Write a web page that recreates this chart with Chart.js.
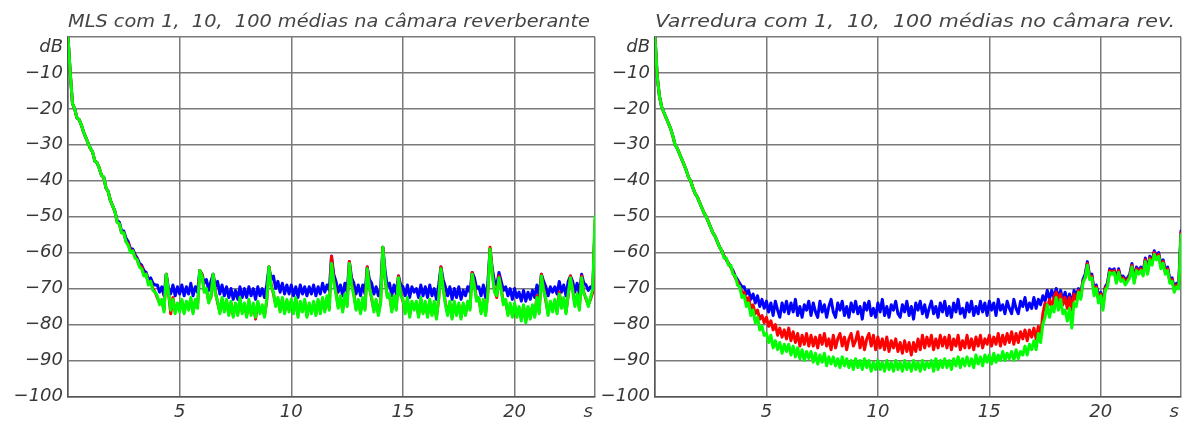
<!DOCTYPE html>
<html><head><meta charset="utf-8">
<script src="https://cdn.jsdelivr.net/npm/chart.js@4.4.1/dist/chart.umd.min.js"></script>
<style>
html,body{margin:0;padding:0;background:#fff;overflow:hidden;width:1184px;height:423px;}
#wl{position:absolute;left:0;top:0;width:600px;height:423px;}
#wr{position:absolute;left:587px;top:0;width:599px;height:423px;}
</style></head><body>
<div id="wl"><canvas id="cl"></canvas></div>
<div id="wr"><canvas id="cr"></canvas></div>
<script>
const titleLeft = 'MLS com 1,  10,  100 médias na câmara reverberante';
const titleRight = 'Varredura com 1,  10,  100 médias no câmara rev.';
const unitX = 's';
const unitY = 'dB';
const xTickValues = [0, 5, 10, 15, 20, 23.3, 23.6];
const yTickValues = [0, -10, -20, -30, -40, -50, -60, -70, -80, -90, -100];

const times = [
0,0.1,0.2,0.3,0.4,0.5,0.6,0.7,0.8,0.9,
1,1.1,1.2,1.3,1.4,1.5,1.6,1.7,1.8,1.9,
2,2.1,2.2,2.3,2.4,2.5,2.6,2.7,2.8,2.9,
3,3.1,3.2,3.3,3.4,3.5,3.6,3.7,3.8,3.9,
4,4.1,4.2,4.3,4.4,4.5,4.6,4.7,4.8,4.9,
5,5.1,5.2,5.3,5.4,5.5,5.6,5.7,5.8,5.9,
6,6.1,6.2,6.3,6.4,6.5,6.6,6.7,6.8,6.9,
7,7.1,7.2,7.3,7.4,7.5,7.6,7.7,7.8,7.9,
8,8.1,8.2,8.3,8.4,8.5,8.6,8.7,8.8,8.9,
9,9.1,9.2,9.3,9.4,9.5,9.6,9.7,9.8,9.9,
10,10.1,10.2,10.3,10.4,10.5,10.6,10.7,10.8,10.9,
11,11.1,11.2,11.3,11.4,11.5,11.6,11.7,11.8,11.9,
12,12.1,12.2,12.3,12.4,12.5,12.6,12.7,12.8,12.9,
13,13.1,13.2,13.3,13.4,13.5,13.6,13.7,13.8,13.9,
14,14.1,14.2,14.3,14.4,14.5,14.6,14.7,14.8,14.9,
15,15.1,15.2,15.3,15.4,15.5,15.6,15.7,15.8,15.9,
16,16.1,16.2,16.3,16.4,16.5,16.6,16.7,16.8,16.9,
17,17.1,17.2,17.3,17.4,17.5,17.6,17.7,17.8,17.9,
18,18.1,18.2,18.3,18.4,18.5,18.6,18.7,18.8,18.9,
19,19.1,19.2,19.3,19.4,19.5,19.6,19.7,19.8,19.9,
20,20.1,20.2,20.3,20.4,20.5,20.6,20.7,20.8,20.9,
21,21.1,21.2,21.3,21.4,21.5,21.6,21.7,21.8,21.9,
22,22.1,22.2,22.3,22.4,22.5,22.6,22.7,22.8,22.9,
23,23.1,23.2,23.3,23.4,23.5,23.6
];

// MLS, 1 average (blue)
const mlsAvg1 = [
0,-10,-18.5,-20,-22.5,-23,-24.5,-26.5,-28,-29.5,
-31,-32,-34.5,-35,-36.5,-38.5,-39,-42,-43,-45.5,
-47,-48.5,-51,-51.5,-54,-54,-56,-57,-59,-59,
-60.5,-61.5,-63,-63.5,-65,-65.5,-67.5,-67,-68.5,-69,
-69,-71,-69.5,-72,-66,-70,-71.5,-69,-72,-69.5,
-71.5,-69,-72,-69.5,-71.5,-68.5,-72,-69.5,-71,-65,
-66,-68.5,-67.5,-70.5,-68,-66,-69.5,-68,-71.5,-69,
-72,-69.5,-72.5,-70,-73,-70.5,-73,-69.5,-72.5,-70,
-72.5,-69.5,-72,-70,-73,-69.5,-72,-70,-72.5,-69,
-64,-67.5,-66.5,-70,-68,-71,-68.5,-71.5,-69,-71.5,
-69,-72,-69.5,-72.5,-69,-71.5,-69.5,-72,-69.5,-71.5,
-69,-72,-69.5,-71.5,-68.5,-71,-69,-70.5,-61,-66,
-68,-71,-69,-72,-68.5,-71,-62.5,-67,-68.5,-71.5,
-69,-72,-69,-71.5,-64,-67.5,-68.5,-71.5,-69.5,-72,
-70,-58.5,-65,-69.5,-68.5,-72,-69,-71.5,-66.5,-69,
-69.5,-72,-69,-72.5,-69.5,-71,-70,-72.5,-69,-72,
-69.5,-72.5,-69,-72,-70,-73,-69,-64,-67.5,-69.5,
-72,-69.5,-73,-70,-72.5,-69.5,-73,-70.5,-72,-69.5,
-71,-65.5,-67,-70,-69.5,-72,-69,-72.5,-68.5,-59,
-64.5,-68,-69,-65.5,-68,-70.5,-69.5,-72,-70,-73,
-70,-72.5,-71,-73.5,-70.5,-73.5,-71,-73,-70.5,-72.5,
-69,-72,-66,-68,-69.5,-72,-69.5,-71,-69.5,-71.5,
-68,-71,-69,-72,-68,-66.5,-68,-71,-68.5,-71.5,
-66,-68.5,-69,-70.5,-69.5,-70,-53
];

// MLS, 10 averages (red)
const mlsAvg10 = [
0,-10,-18.5,-20,-22.5,-23,-24.5,-26.5,-28,-29.5,
-31,-32,-34.5,-35,-36.5,-38.5,-39,-42,-43,-45.5,
-47,-48.5,-51.5,-52,-54.5,-54.5,-57,-57.5,-59.5,-59.5,
-61,-62,-63.5,-64,-66,-66,-68.5,-68,-70,-71,
-72.5,-74,-73.5,-76,-66,-71,-77,-72.5,-76.5,-74.5,
-76,-73.5,-76.5,-74,-75.5,-73,-76.5,-73.5,-75,-65,
-66,-70.5,-70.5,-73.5,-72.5,-66,-71,-74,-76.5,-73,
-76,-73.5,-77,-74,-77.5,-74.5,-77,-73,-76.5,-74.5,
-77.5,-73.5,-77,-74.5,-78.5,-74,-76.5,-75,-77.5,-73.5,
-64,-69,-71.5,-74.5,-73,-76,-73,-76.5,-73.5,-76,
-73.5,-76.5,-73,-77.5,-74,-76,-73.5,-77.5,-74.5,-76.5,
-74,-77,-73.5,-76.5,-73,-76,-72.5,-75.5,-61,-67.5,
-71,-75,-72.5,-76,-72,-74.5,-62.5,-68.5,-71.5,-75.5,
-73.5,-76.5,-73,-75.5,-64,-69.5,-73,-76,-73.5,-77,
-73.5,-58.5,-67.5,-72,-72,-76,-72.5,-75.5,-66.5,-71.5,
-73.5,-76.5,-73,-77.5,-74,-75.5,-74,-77.5,-73,-76.5,
-74,-77.5,-73.5,-77,-74,-78,-73,-64,-69.5,-74,
-77,-74,-78,-74,-77,-74.5,-78,-74.5,-77,-74,
-75.5,-65.5,-69,-73,-73,-76.5,-73.5,-77,-71,-58.5,
-65.5,-70.5,-72.5,-66.5,-70,-74,-73.5,-77,-74.5,-77.5,
-74.5,-77.5,-75.5,-78.5,-75,-79,-75.5,-78,-75,-77.5,
-72,-76.5,-66,-70,-73.5,-77,-74,-76,-73.5,-76.5,
-71,-75,-73,-76.5,-72,-66.5,-70,-74.5,-72,-75.5,
-66.5,-71,-73,-74.5,-73,-71,-51
];

// MLS, 100 averages (green)
const mlsAvg100 = [
0,-10,-18.5,-20,-22.5,-23,-24.5,-26.5,-28,-29.5,
-31,-32,-34.5,-35,-36.5,-38.5,-39,-42,-43,-45.5,
-47,-48.5,-51.5,-52,-54.5,-54.5,-57,-58,-60,-59.5,
-61.5,-62,-64,-64.5,-66.5,-66,-69,-68,-70.5,-71,
-72,-74.5,-73,-76.5,-66,-71,-76,-73,-77,-74,
-76.5,-73,-77,-73.5,-76,-72.5,-77,-73,-75.5,-65,
-66.5,-71,-70,-74,-72,-66,-71.5,-73.5,-77,-72.5,
-76.5,-73,-77.5,-73.5,-78,-74,-77.5,-72.5,-77,-74,
-78,-73,-77.5,-74,-78,-73.5,-77,-74.5,-78,-73,
-64,-69.5,-71,-75,-72.5,-76.5,-72.5,-77,-73,-76.5,
-73,-77,-72.5,-78,-73.5,-76.5,-73,-78,-74,-77,
-73.5,-77.5,-73,-77,-72.5,-76.5,-72,-76,-63,-68,
-71.5,-75.5,-72,-76.5,-71.5,-75,-63,-69,-72,-76,
-73,-77,-72.5,-76,-64.5,-70,-72.5,-76.5,-73,-77.5,
-74,-58.5,-67,-72.5,-71.5,-76.5,-72,-76,-67,-72,
-73,-77,-72.5,-78,-73.5,-76,-73.5,-78,-72.5,-77,
-73.5,-78,-73,-77.5,-73.5,-78.5,-72.5,-64.5,-70,-74.5,
-77.5,-73.5,-78.5,-73.5,-77.5,-74,-78.5,-74,-77.5,-73.5,
-76,-66,-69.5,-73.5,-72.5,-77,-73,-77.5,-71.5,-59,
-66,-71,-72,-67,-70.5,-74.5,-73,-77.5,-74,-78,
-74,-78,-75,-79,-74.5,-79.5,-75,-78.5,-74.5,-78,
-72.5,-77,-66.5,-70.5,-73,-77.5,-73.5,-76.5,-73,-77,
-71.5,-75.5,-72.5,-77,-71.5,-67,-70.5,-75,-71.5,-76,
-67,-71.5,-72.5,-75,-72.5,-70,-50
];

// Sweep, 1 average (blue)
const sweepAvg1 = [
0,-11,-16.5,-19.5,-21,-22.5,-24,-25.5,-27.5,-30,
-31,-32.5,-34,-35.5,-37,-39,-40,-42,-43.5,-44.5,
-46,-47.5,-49,-50,-51.5,-53,-54.5,-55.5,-57,-58.5,
-59.5,-61,-62,-63,-64,-65,-66.5,-67.5,-68.5,-69.5,
-69.5,-71.5,-70.5,-73,-71.5,-74,-72,-75,-73,-75.5,
-73.5,-76.5,-74,-77.5,-73.5,-76,-78,-74,-76.5,-73.5,
-77,-74,-76.5,-73,-77.5,-75,-78,-74.5,-76,-73.5,
-77.5,-74,-76.5,-78,-73.5,-76.5,-74.5,-78,-75,-73,
-76.5,-78,-74,-76,-73.5,-77.5,-75,-78,-74,-76.5,
-73.5,-77,-75,-78.5,-74,-76,-73.5,-77.5,-75.5,-78,
-74,-76.5,-73,-77.5,-75,-78,-74.5,-76,-73.5,-77,
-78,-74.5,-76.5,-73.5,-77.5,-75,-78.5,-74,-76,-73.5,
-77,-74.5,-78,-75.5,-73.5,-77,-75,-78,-74,-76.5,
-73.5,-77.5,-75,-78,-74,-76.5,-73,-77,-75.5,-78,
-74,-76.5,-73.5,-77.5,-75,-77,-73.5,-76.5,-74,-77.5,
-73.5,-76,-74,-77.5,-73,-76,-74.5,-77,-73.5,-75.5,
-77,-73,-75.5,-77,-73.5,-75,-72.5,-76,-74,-75.5,
-72.5,-75.5,-73,-74.5,-72,-73.5,-70.5,-73,-70.5,-72.5,
-70,-72.5,-70.5,-73.5,-71,-74,-71.5,-74.5,-70.5,-72,
-70,-72,-67.5,-66,-62.5,-66.5,-66,-70.5,-69,-72,
-71,-74,-69.5,-68.5,-64.5,-65,-64.5,-67.5,-64.5,-67,
-66.5,-67.5,-67,-66,-63,-67.5,-64,-65,-64,-65.5,
-61.5,-65,-61,-62.5,-59.5,-61,-60,-63.5,-62,-65,
-64,-67.5,-67,-70,-68.5,-68.5,-54
];

// Sweep, 10 averages (red)
const sweepAvg10 = [
0,-11,-16.5,-19.5,-21,-22.5,-24,-25.5,-27.5,-30,
-31,-32.5,-34,-35.5,-37,-39,-40,-42,-43.5,-44.5,
-46,-47.5,-49,-50,-51.5,-53,-54.5,-55.5,-57,-58.5,
-59.5,-61,-62,-63,-64,-65.5,-67,-68,-69.5,-71,
-71,-73.5,-72.5,-75.5,-74.5,-77,-76,-78.5,-77.5,-79.5,
-78,-80.5,-79,-81.5,-80,-83,-81,-83.5,-81.5,-84,
-81,-84.5,-82,-85,-82.5,-86,-83,-85.5,-82.5,-86,
-83,-86,-83.5,-86.5,-83,-85.5,-82.5,-86,-84,-87,
-83,-86.5,-84,-82.5,-86,-83.5,-87,-84,-82.5,-86,
-84.5,-82,-86.5,-83.5,-87,-84,-82.5,-86,-83,-87,
-83.5,-86.5,-84,-87,-83.5,-87.5,-84.5,-86.5,-84,-87.5,
-85,-88,-84.5,-87.5,-85,-88.5,-85,-87.5,-84,-87,
-83,-86.5,-83.5,-86,-83,-87,-84,-86.5,-83,-86,
-83.5,-86.5,-83,-87,-84,-86,-83,-87,-84.5,-86.5,
-83,-86.5,-84,-87,-83.5,-86,-83,-86.5,-84,-85.5,
-83,-86,-83.5,-85.5,-82.5,-86,-83,-85.5,-82.5,-85,
-82,-85.5,-82.5,-85,-82,-84,-81.5,-84.5,-81.5,-83.5,
-81,-84,-80.5,-83.5,-77,-74,-75.5,-73,-75,-72.5,
-71,-73.5,-71.5,-74.5,-72.5,-75.5,-72.5,-76,-71.5,-73,
-70.5,-72.5,-68,-67,-63,-67,-66.5,-71,-69.5,-73,
-71.5,-75,-70,-69,-65,-65.5,-65,-68,-65,-67.5,
-67,-68,-67.5,-66.5,-63.5,-68,-64.5,-65.5,-64.5,-66,
-62,-65.5,-61.5,-63,-60,-61.5,-60.5,-64,-62.5,-65.5,
-64.5,-68,-67.5,-70.5,-69,-69,-54.5
];

// Sweep, 100 averages (green)
const sweepAvg100 = [
0,-11,-16.5,-19.5,-21,-22.5,-24,-25.5,-27.5,-30,
-31,-32.5,-34,-35.5,-37,-39,-40,-42,-43.5,-44.5,
-46,-47.5,-49,-50,-51.5,-53,-54.5,-55.5,-57,-58.5,
-59.5,-61.5,-61.5,-63.5,-63.5,-66,-66.5,-69,-69.5,-72.5,
-72,-75,-74,-77.5,-76,-79.5,-78,-81.5,-80.5,-83,
-82.5,-85,-83,-86.5,-84.5,-87,-85,-88,-85.5,-87.5,
-85.5,-88.5,-86,-89,-86.5,-89.5,-87,-90,-87.5,-89.5,
-87.5,-90.5,-88,-91,-88.5,-90.5,-88,-91.5,-89,-91,
-89,-91.5,-89.5,-92,-89,-91.5,-89.5,-92,-90,-92.5,
-89.5,-92,-90,-92.5,-89.5,-92,-90,-93,-90.5,-92.5,
-90,-92.5,-90.5,-93,-90,-92.5,-90.5,-93,-90,-92.5,
-90.5,-93,-90,-92.5,-90.5,-93,-90,-92.5,-90.5,-93,
-90,-92.5,-90.5,-92,-90,-93,-89.5,-92.5,-90,-92,
-89.5,-92,-90,-92.5,-89.5,-91.5,-89,-92,-89.5,-91.5,
-89,-91.5,-89.5,-92,-88.5,-91,-89,-91.5,-88.5,-90.5,
-88.5,-91,-88,-90.5,-88.5,-90,-87.5,-90,-88,-89.5,
-87.5,-90,-87,-89.5,-87.5,-88.5,-86,-88.5,-85.5,-87,
-84.5,-87,-82.5,-85,-80,-78,-74.5,-78,-75,-76.5,
-72.5,-76,-73,-77,-76,-79,-75.5,-81,-74,-75,
-71,-73,-68.5,-67,-63.5,-67.5,-67,-72,-70,-74,
-72,-76,-70.5,-69.5,-65.5,-66,-65.5,-68.5,-65.5,-68,
-67.5,-69,-68,-67,-64,-68.5,-65,-66,-65,-66.5,
-62.5,-66,-62,-63.5,-60.5,-62,-61,-64.5,-63,-66,
-65,-68.5,-68,-71,-69.5,-70,-55
];

function pts(vals) { return times.map((t, i) => ({ x: t, y: vals[i] })); }

const titlePlugin = {
  id: 'ttl',
  afterDraw(chart, args, opts) {
    const ctx = chart.ctx;
    ctx.save();
    ctx.font = 'italic 17px "DejaVu Sans"';
    ctx.fillStyle = '#444';
    ctx.textBaseline = 'middle';
    const w = ctx.measureText(opts.text).width;
    ctx.translate(chart.chartArea.left, 23);
    ctx.scale(opts.width / w, 1);
    ctx.fillText(opts.text, 0, 0);
    ctx.restore();
  }
};

const tickFont = { family: 'DejaVu Sans', style: 'italic', size: 18 };

function lineSet(vals, color, order) {
  return { data: pts(vals), borderColor: color, borderWidth: 3, pointRadius: 0, tension: 0,
           borderJoinStyle: 'round', borderCapStyle: 'round', order: order };
}

function makeChart(id, title, titleWidth, rightPad, s1, s10, s100) {
  return new Chart(document.getElementById(id), {
    type: 'line',
    data: {
      datasets: [
        lineSet(s100, '#00ff00', 0),
        lineSet(s10, '#ff0000', 1),
        lineSet(s1, '#0000ff', 2)
      ]
    },
    options: {
      responsive: true,
      maintainAspectRatio: false,
      animation: false,
      layout: { padding: { top: 37, right: rightPad, left: 0, bottom: 0 } },
      plugins: {
        legend: { display: false },
        tooltip: { enabled: false },
        ttl: { text: title, width: titleWidth }
      },
      scales: {
        x: {
          type: 'linear', min: 0, max: 23.6,
          afterBuildTicks(s) { s.ticks = xTickValues.map(v => ({ value: v })); },
          afterFit(s) { s.height = 23; },
          ticks: {
            autoSkip: false, maxRotation: 0, padding: 5, font: tickFont, color: '#383838',
            callback(v) { if (v === 23.3) return unitX; if (v === 0 || v === 23.6) return ''; return String(v); }
          },
          grid: {
            drawTicks: false, lineWidth: 1.5,
            color(c) { return (c.tick && c.tick.value === 23.3) ? 'rgba(0,0,0,0)' : '#7a7a7a'; }
          },
          border: { display: true, color: '#555', width: 1.5 }
        },
        y: {
          min: -100, max: 0,
          afterBuildTicks(s) { s.ticks = yTickValues.map(v => ({ value: v })); },
          afterFit(s) { s.width = 68; },
          ticks: {
            autoSkip: false, padding: 5, font: tickFont, color: '#383838',
            callback(v) { return v === 0 ? ['', unitY] : '\u2212' + Math.abs(v); }
          },
          grid: { drawTicks: false, lineWidth: 1.5, color: '#7a7a7a' },
          border: { display: true, color: '#555', width: 1.5 }
        }
      }
    },
    plugins: [titlePlugin]
  });
}

makeChart('cl', titleLeft, 522, 3, mlsAvg1, mlsAvg10, mlsAvg100);
makeChart('cr', titleRight, 520, 0, sweepAvg1, sweepAvg10, sweepAvg100);
</script>
</body></html>
